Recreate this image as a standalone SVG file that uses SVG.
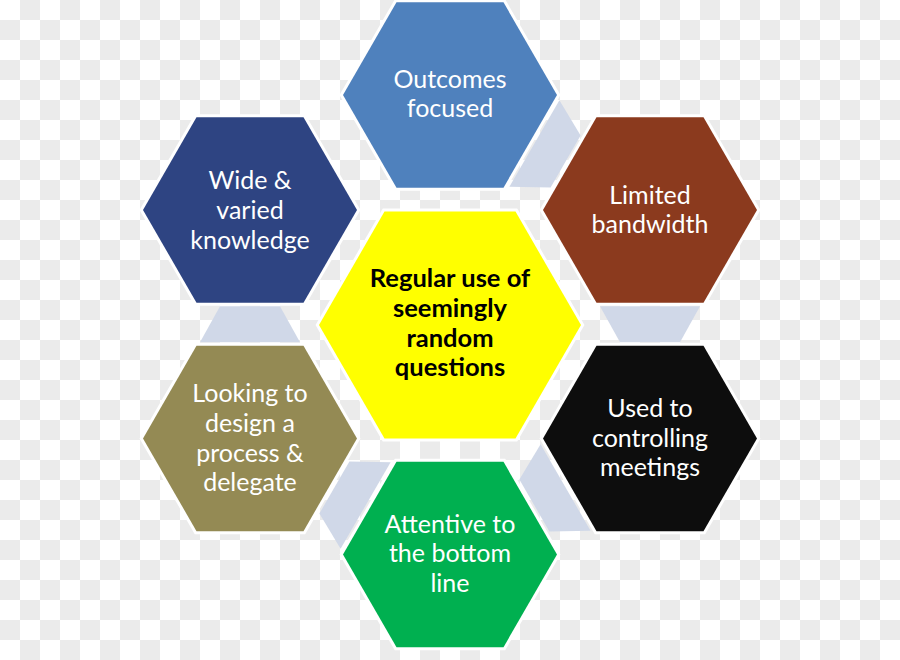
<svg xmlns="http://www.w3.org/2000/svg" xmlns:xlink="http://www.w3.org/1999/xlink" width="900" height="660" viewBox="0 0 900 660">
<defs>
<pattern id="checker" x="0" y="0" width="40" height="40" patternUnits="userSpaceOnUse">
<rect x="0" y="0" width="40" height="40" fill="#ffffff"/>
<rect x="20" y="0" width="20" height="20" fill="#ebebeb"/>
<rect x="0" y="20" width="20" height="20" fill="#ebebeb"/>
</pattern>
<polygon id="hexO" points="-107,0 -53.5,-92.66 53.5,-92.66 107,0 53.5,92.66 -53.5,92.66"/>
<polygon id="hexC" points="-131,0 -65.5,-113.45 65.5,-113.45 131,0 65.5,113.45 -65.5,113.45"/>
</defs>
<style>
.hex { stroke: #ffffff; stroke-width: 6; stroke-linejoin: miter; paint-order: stroke; }
.conn { fill: #d0d8e8; stroke: none; }
.lbl { font-family: Lato, "Open Sans", "Liberation Sans", sans-serif; font-size: 25px; fill: #ffffff; text-anchor: middle; }
.lblc { font-family: Lato, "Open Sans", "Liberation Sans", sans-serif; font-size: 25.5px; font-weight: bold; fill: #000000; text-anchor: middle; }
</style>
<rect x="0" y="0" width="900" height="660" fill="url(#checker)"/>
<g id="connectors">
<polygon class="conn" points="559.4,100.2 580.6,135.5 550.6,187.5 509.4,186.8"/>
<polygon class="conn" points="600,306.25 700,306.25 680,342.25 620,342.25"/>
<polygon class="conn" points="540.6,444.2 590.6,530.8 549.4,531.5 519.4,479.5"/>
<polygon class="conn" points="349.4,461.5 390.6,462.2 340.6,548.8 319.4,513.5"/>
<polygon class="conn" points="220,306.25 280,306.25 300,342.25 200,342.25"/>
</g>
<g id="node-outcomes">
<use xlink:href="#hexO" class="hex" fill="#4f81bd" transform="translate(450,95)"/>
<text class="lbl" x="450" y="88">Outcomes</text>
<text class="lbl" x="450" y="117">focused</text>
</g>
<g id="node-limited">
<use xlink:href="#hexO" class="hex" fill="#8b3a1e" transform="translate(650,210)"/>
<text class="lbl" x="650" y="204">Limited</text>
<text class="lbl" x="650" y="233">bandwidth</text>
</g>
<g id="node-used">
<use xlink:href="#hexO" class="hex" fill="#0d0d0d" transform="translate(650,438.5)"/>
<text class="lbl" x="650" y="417">Used to</text>
<text class="lbl" x="650" y="447">controlling</text>
<text class="lbl" x="650" y="476">meetings</text>
</g>
<g id="node-attentive">
<use xlink:href="#hexO" class="hex" fill="#00b050" transform="translate(450,554.5)"/>
<text class="lbl" x="450" y="533">Attentive to</text>
<text class="lbl" x="450" y="562">the bottom</text>
<text class="lbl" x="450" y="592">line</text>
</g>
<g id="node-looking">
<use xlink:href="#hexO" class="hex" fill="#948a54" transform="translate(250,438.5)"/>
<text class="lbl" x="250" y="402">Looking to</text>
<text class="lbl" x="250" y="432">design a</text>
<text class="lbl" x="250" y="462">process &amp;</text>
<text class="lbl" x="250" y="491">delegate</text>
</g>
<g id="node-wide">
<use xlink:href="#hexO" class="hex" fill="#2e4482" transform="translate(250,210)"/>
<text class="lbl" x="250" y="189">Wide &amp;</text>
<text class="lbl" x="250" y="219">varied</text>
<text class="lbl" x="250" y="249">knowledge</text>
</g>
<g id="node-center">
<use xlink:href="#hexC" class="hex" fill="#ffff00" transform="translate(450,325)"/>
<text class="lblc" x="450" y="287">Regular use of</text>
<text class="lblc" x="450" y="317">seemingly</text>
<text class="lblc" x="450" y="347">random</text>
<text class="lblc" x="450" y="376">questions</text>
</g>
</svg>
